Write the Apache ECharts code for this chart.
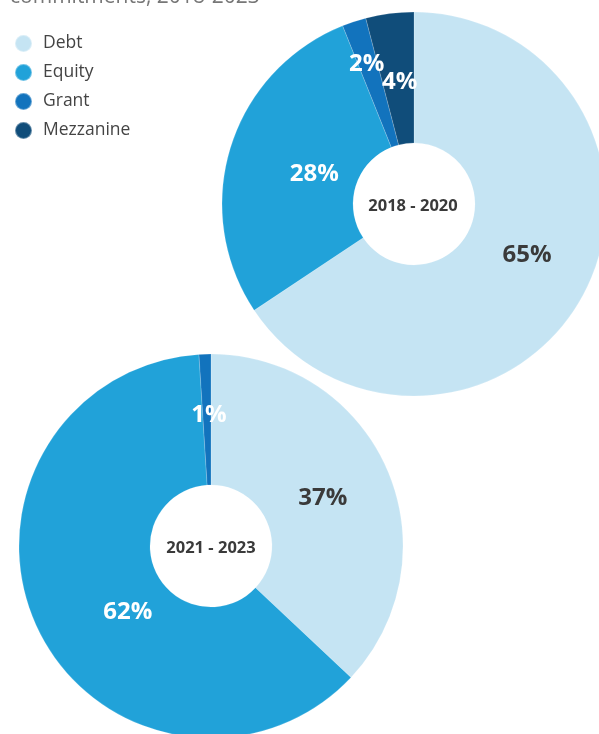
<!DOCTYPE html>
<html><head><meta charset="utf-8">
<script src="https://cdn.jsdelivr.net/npm/echarts@6/dist/echarts.min.js"></script>
<style>html,body{margin:0;padding:0;background:#fff;}#c{width:599px;height:734px;}</style>
</head><body><div id="c"></div>
<script>
const categories = ['Debt', 'Equity', 'Grant', 'Mezzanine'];
const period1 = '2018 - 2020';
const values1 = [65, 28, 2, 4];
const period2 = '2021 - 2023';
const values2 = [37, 62, 1, 0];
const titleText = 'commitments, 2018-2023';

const colors = ['#c5e4f3', '#21a2d9', '#1273bd', '#104d7a'];
const labelColors = ['#3a3a3a', '#ffffff', '#ffffff', '#ffffff'];
const font = '"Open Sans", "Noto Sans", sans-serif';
// label nudges (style only), per series and category
const nudges = [
  [[-1, -10], [24, 9], [-7, -17], [2, 7]],
  [[-7, 4], [34, 11], [2, -1], [0, 0]]
];
const seriesVals = [values1, values2];

function catName(p) {
  const vals = seriesVals[p.seriesIndex];
  let k = -1;
  for (let i = 0; i < vals.length; i++) {
    if (vals[i] > 0) { k++; if (k === p.dataIndex) return i; }
  }
  return 0;
}
function mkData(vals) {
  const out = [];
  vals.forEach((v, i) => {
    if (v > 0) out.push({
      name: categories[i], value: v,
      itemStyle: { color: colors[i] },
      label: { color: labelColors[i] }
    });
  });
  return out;
}
function mkSeries(vals, center) {
  return {
    type: 'pie', center: center, radius: [61, 192], startAngle: 90, clockwise: true,
    avoidLabelOverlap: false, silent: true, animation: false,
    itemStyle: { borderColor: 'rgba(255,255,255,0.35)', borderWidth: 0.5 },
    label: {
      show: true, position: 'inside', formatter: '{c}%',
      fontFamily: font, fontSize: 24, fontWeight: 'bold'
    },
    labelLine: { show: false },
    labelLayout: function (p) {
      const n = nudges[p.seriesIndex][catName(p)] || [0, 0];
      return { dx: n[0], dy: n[1], hideOverlap: false };
    },
    data: mkData(vals)
  };
}

const chart = echarts.init(document.getElementById('c'), null, { renderer: 'canvas' });
chart.setOption({
  animation: false,
  color: colors,
  legend: {
    orient: 'vertical', left: 9, top: 29,
    icon: 'circle', itemWidth: 17, itemHeight: 17, itemGap: 10,
    data: categories,
    textStyle: { fontFamily: font, fontSize: 17.5, color: '#444', padding: [0, 0, 0, 6] },
    selectedMode: false
  },
  graphic: [
    { type: 'text', left: 10, top: -13, style: { text: titleText, font: '21px ' + font, fill: '#777' } },
    { type: 'text', x: 413, y: 206, style: { text: period1, font: 'bold 16.5px ' + font, fill: '#3a3a3a', align: 'center', verticalAlign: 'middle' }, z: 10 },
    { type: 'text', x: 211, y: 548, style: { text: period2, font: 'bold 16.5px ' + font, fill: '#3a3a3a', align: 'center', verticalAlign: 'middle' }, z: 10 }
  ],
  series: [ mkSeries(values1, [414, 204]), mkSeries(values2, [211, 546]) ]
});
</script></body></html>
